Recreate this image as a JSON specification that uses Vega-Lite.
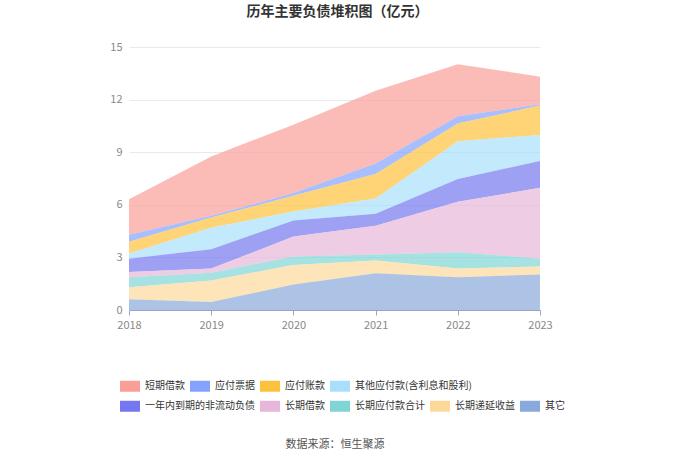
{
  "$schema": "https://vega.github.io/schema/vega-lite/v6.json",
  "autosize": {"type": "none"},
  "width": 411,
  "height": 263,
  "padding": {"left": 129, "top": 47, "right": 140, "bottom": 150},
  "background": "white",
  "title": {
    "text": "历年主要负债堆积图（亿元）",
    "anchor": "middle",
    "fontSize": 14,
    "fontWeight": "bold",
    "color": "#333333",
    "font": "Noto Sans CJK SC",
    "offset": 22,
    "dx": 3
  },
  "data": {
    "values": [
      {"year": "2018", "item": "短期借款", "grp": 1, "order": 9, "value": 2.03},
      {"year": "2019", "item": "短期借款", "grp": 1, "order": 9, "value": 3.39},
      {"year": "2020", "item": "短期借款", "grp": 1, "order": 9, "value": 3.90},
      {"year": "2021", "item": "短期借款", "grp": 1, "order": 9, "value": 4.15},
      {"year": "2022", "item": "短期借款", "grp": 1, "order": 9, "value": 2.97},
      {"year": "2023", "item": "短期借款", "grp": 1, "order": 9, "value": 1.58},
      {"year": "2018", "item": "应付票据", "grp": 1, "order": 8, "value": 0.40},
      {"year": "2019", "item": "应付票据", "grp": 1, "order": 8, "value": 0.09},
      {"year": "2020", "item": "应付票据", "grp": 1, "order": 8, "value": 0.16},
      {"year": "2021", "item": "应付票据", "grp": 1, "order": 8, "value": 0.61},
      {"year": "2022", "item": "应付票据", "grp": 1, "order": 8, "value": 0.42},
      {"year": "2023", "item": "应付票据", "grp": 1, "order": 8, "value": 0.07},
      {"year": "2018", "item": "应付账款", "grp": 1, "order": 7, "value": 0.67},
      {"year": "2019", "item": "应付账款", "grp": 1, "order": 7, "value": 0.59},
      {"year": "2020", "item": "应付账款", "grp": 1, "order": 7, "value": 0.89},
      {"year": "2021", "item": "应付账款", "grp": 1, "order": 7, "value": 1.39},
      {"year": "2022", "item": "应付账款", "grp": 1, "order": 7, "value": 1.01},
      {"year": "2023", "item": "应付账款", "grp": 1, "order": 7, "value": 1.68},
      {"year": "2018", "item": "其他应付款(含利息和股利)", "grp": 1, "order": 6, "value": 0.29},
      {"year": "2019", "item": "其他应付款(含利息和股利)", "grp": 1, "order": 6, "value": 1.22},
      {"year": "2020", "item": "其他应付款(含利息和股利)", "grp": 1, "order": 6, "value": 0.52},
      {"year": "2021", "item": "其他应付款(含利息和股利)", "grp": 1, "order": 6, "value": 0.87},
      {"year": "2022", "item": "其他应付款(含利息和股利)", "grp": 1, "order": 6, "value": 2.15},
      {"year": "2023", "item": "其他应付款(含利息和股利)", "grp": 1, "order": 6, "value": 1.48},
      {"year": "2018", "item": "一年内到期的非流动负债", "grp": 2, "order": 5, "value": 0.76},
      {"year": "2019", "item": "一年内到期的非流动负债", "grp": 2, "order": 5, "value": 1.11},
      {"year": "2020", "item": "一年内到期的非流动负债", "grp": 2, "order": 5, "value": 0.91},
      {"year": "2021", "item": "一年内到期的非流动负债", "grp": 2, "order": 5, "value": 0.69},
      {"year": "2022", "item": "一年内到期的非流动负债", "grp": 2, "order": 5, "value": 1.30},
      {"year": "2023", "item": "一年内到期的非流动负债", "grp": 2, "order": 5, "value": 1.53},
      {"year": "2018", "item": "长期借款", "grp": 2, "order": 4, "value": 0.30},
      {"year": "2019", "item": "长期借款", "grp": 2, "order": 4, "value": 0.23},
      {"year": "2020", "item": "长期借款", "grp": 2, "order": 4, "value": 1.14},
      {"year": "2021", "item": "长期借款", "grp": 2, "order": 4, "value": 1.64},
      {"year": "2022", "item": "长期借款", "grp": 2, "order": 4, "value": 2.87},
      {"year": "2023", "item": "长期借款", "grp": 2, "order": 4, "value": 4.04},
      {"year": "2018", "item": "长期应付款合计", "grp": 2, "order": 3, "value": 0.57},
      {"year": "2019", "item": "长期应付款合计", "grp": 2, "order": 3, "value": 0.45},
      {"year": "2020", "item": "长期应付款合计", "grp": 2, "order": 3, "value": 0.48},
      {"year": "2021", "item": "长期应付款合计", "grp": 2, "order": 3, "value": 0.34},
      {"year": "2022", "item": "长期应付款合计", "grp": 2, "order": 3, "value": 0.94},
      {"year": "2023", "item": "长期应付款合计", "grp": 2, "order": 3, "value": 0.45},
      {"year": "2018", "item": "长期递延收益", "grp": 2, "order": 2, "value": 0.69},
      {"year": "2019", "item": "长期递延收益", "grp": 2, "order": 2, "value": 1.22},
      {"year": "2020", "item": "长期递延收益", "grp": 2, "order": 2, "value": 1.12},
      {"year": "2021", "item": "长期递延收益", "grp": 2, "order": 2, "value": 0.72},
      {"year": "2022", "item": "长期递延收益", "grp": 2, "order": 2, "value": 0.49},
      {"year": "2023", "item": "长期递延收益", "grp": 2, "order": 2, "value": 0.46},
      {"year": "2018", "item": "其它", "grp": 2, "order": 1, "value": 0.61},
      {"year": "2019", "item": "其它", "grp": 2, "order": 1, "value": 0.46},
      {"year": "2020", "item": "其它", "grp": 2, "order": 1, "value": 1.45},
      {"year": "2021", "item": "其它", "grp": 2, "order": 1, "value": 2.10},
      {"year": "2022", "item": "其它", "grp": 2, "order": 1, "value": 1.87},
      {"year": "2023", "item": "其它", "grp": 2, "order": 1, "value": 2.02}
    ]
  },
  "transform": [
    {"stack": "value", "groupby": ["year"], "sort": [{"field": "order", "order": "ascending"}], "as": ["y0", "y1"]}
  ],
  "config": {
    "font": "Noto Sans CJK SC",
    "view": {"stroke": null},
    "legend": {
      "orient": "none",
      "direction": "horizontal",
      "title": null,
      "labelFontSize": 10,
      "labelColor": "#333333",
      "labelFont": "Noto Sans CJK SC",
      "labelOffset": 5,
      "columnPadding": 5,
      "symbolType": "M-1,-0.55H1V0.55H-1Z",
      "symbolSize": 400,
      "symbolStrokeWidth": 0,
      "symbolOpacity": 1
    }
  },
  "encoding": {
    "x": {
      "field": "year",
      "type": "ordinal",
      "scale": {"type": "point", "padding": 0},
      "axis": {
        "title": "数据来源：恒生聚源",
        "titleFontSize": 11,
        "titleFontWeight": "normal",
        "titleColor": "#555555",
        "titlePadding": 108,
        "labelAngle": 0,
        "labelFontSize": 11,
        "labelColor": "#888888",
        "labelPadding": 4,
        "labelBaseline": "top",
        "domainColor": "#9aa6bf",
        "tickColor": "#9aa6bf",
        "tickSize": 5,
        "grid": false
      }
    },
    "y": {
      "field": "y1",
      "type": "quantitative",
      "scale": {"domain": [0, 15]},
      "axis": {
        "title": null,
        "values": [0, 3, 6, 9, 12, 15],
        "domain": false,
        "ticks": false,
        "labelFontSize": 11,
        "labelColor": "#888888",
        "labelPadding": 7,
        "gridColor": "#e6e9f2"
      }
    },
    "y2": {"field": "y0"}
  },
  "layer": [
    {
      "transform": [{"filter": {"field": "grp", "equal": 1}}],
      "mark": {"type": "area", "opacity": 0.7},
      "encoding": {
        "color": {
          "field": "item",
          "type": "nominal",
          "scale": {
            "domain": ["短期借款", "应付票据", "应付账款", "其他应付款(含利息和股利)"],
            "range": ["#fa9f98", "#85a3fc", "#fdc23d", "#a8e0fb"]
          },
          "legend": {"legendX": -9, "legendY": 329}
        },
        "order": {"field": "order"}
      }
    },
    {
      "transform": [{"filter": {"field": "grp", "equal": 2}}],
      "mark": {"type": "area", "opacity": 0.7},
      "encoding": {
        "color": {
          "field": "item",
          "type": "nominal",
          "scale": {
            "domain": ["一年内到期的非流动负债", "长期借款", "长期应付款合计", "长期递延收益", "其它"],
            "range": ["#7577f0", "#e7b6d8", "#80d5d4", "#fdd89b", "#89a9dc"]
          },
          "legend": {"legendX": -9, "legendY": 349}
        },
        "order": {"field": "order"}
      }
    }
  ],
  "resolve": {"scale": {"color": "independent"}, "legend": {"color": "independent"}}
}
